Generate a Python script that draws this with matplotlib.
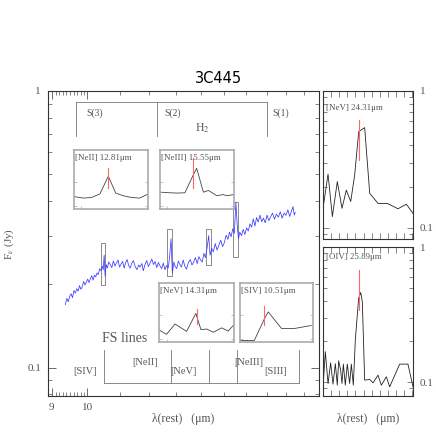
import numpy as np
import matplotlib
matplotlib.use('Agg')
import matplotlib.pyplot as plt
from matplotlib.patches import Rectangle
from matplotlib.ticker import NullFormatter

plt.rcParams['font.family'] = ['Liberation Serif', 'DejaVu Serif']
plt.rcParams['mathtext.fontset'] = 'stix'

GRAY = '#555555'
FRAME = '#333333'
LIGHT = '#aaaaaa'
RED = '#ff6666'

# low-res spectrum (rest wavelength in um, flux in Jy)
spec_wl = [9.37, 9.41, 9.45, 9.49, 9.53, 9.57, 9.61, 9.65, 9.69, 9.73,
           9.77, 9.81, 9.85, 9.89, 9.93, 9.97, 10.01, 10.05, 10.09, 10.13,
           10.17, 10.21, 10.25, 10.29, 10.33, 10.37, 10.41, 10.45, 10.48, 10.51,
           10.54, 10.57, 10.61, 10.65, 10.70, 10.75, 10.80, 10.85, 10.90, 10.95,
           11.00, 11.05, 11.10, 11.15, 11.20, 11.25, 11.30, 11.35, 11.40, 11.46,
           11.52, 11.58, 11.64, 11.69, 11.75, 11.80, 11.86, 11.92, 11.98, 12.04,
           12.10, 12.16, 12.22, 12.28, 12.34, 12.40, 12.46, 12.52, 12.58, 12.64,
           12.70, 12.75, 12.81, 12.86, 12.92, 12.97, 13.03, 13.09, 13.15, 13.21,
           13.28, 13.34, 13.41, 13.48, 13.56, 13.63, 13.70, 13.77, 13.84, 13.91,
           13.98, 14.05, 14.12, 14.18, 14.25, 14.32, 14.38, 14.45, 14.52, 14.60,
           14.68, 14.76, 14.84, 14.92, 15.00, 15.08, 15.16, 15.23, 15.30, 15.38,
           15.45, 15.52, 15.58, 15.64, 15.70, 15.78, 15.86, 15.94, 16.02, 16.10,
           16.18, 16.26, 16.34, 16.42, 16.50, 16.58, 16.67, 16.75, 16.84, 16.93,
           17.02, 17.11, 17.20, 17.30, 17.40, 17.50, 17.60, 17.70, 17.80, 17.90,
           18.00, 18.10, 18.20, 18.30, 18.38, 18.45, 18.50]
spec_flux = [0.169, 0.178, 0.173, 0.181, 0.185, 0.179, 0.190, 0.186, 0.193, 0.189,
             0.198, 0.192, 0.196, 0.205, 0.199, 0.204, 0.209, 0.203, 0.210, 0.215,
             0.207, 0.216, 0.213, 0.220, 0.217, 0.228, 0.224, 0.233, 0.226, 0.255,
             0.214, 0.236, 0.229, 0.241, 0.236, 0.230, 0.243, 0.233, 0.239, 0.245,
             0.231, 0.237, 0.242, 0.229, 0.240, 0.246, 0.234, 0.229, 0.238, 0.244,
             0.232, 0.226, 0.235, 0.231, 0.238, 0.224, 0.236, 0.244, 0.232, 0.239,
             0.247, 0.236, 0.242, 0.230, 0.240, 0.233, 0.228, 0.239, 0.226, 0.234,
             0.229, 0.248, 0.292, 0.220, 0.241, 0.232, 0.228, 0.243, 0.236, 0.231,
             0.245, 0.233, 0.227, 0.239, 0.246, 0.235, 0.241, 0.250, 0.238, 0.252,
             0.245, 0.241, 0.259, 0.250, 0.270, 0.300, 0.255, 0.270, 0.262, 0.281,
             0.266, 0.277, 0.289, 0.274, 0.283, 0.301, 0.291, 0.309, 0.297, 0.318,
             0.306, 0.395, 0.330, 0.292, 0.309, 0.300, 0.316, 0.303, 0.320, 0.312,
             0.331, 0.322, 0.345, 0.325, 0.349, 0.336, 0.356, 0.337, 0.347, 0.334,
             0.356, 0.340, 0.351, 0.362, 0.344, 0.359, 0.350, 0.366, 0.347, 0.362,
             0.355, 0.372, 0.352, 0.368, 0.382, 0.356, 0.364]

# boxes around the lines in the main spectrum: (wl_min, wl_max, f_min, f_max)
line_boxes = [(10.42, 10.55, 0.199, 0.283), (12.66, 12.85, 0.215, 0.318),
              (14.21, 14.42, 0.235, 0.318), (15.39, 15.62, 0.252, 0.398)]

h2_wl = [9.66, 12.28, 17.03]
h2_labels = [('S(3)', 9.97), ('S(2)', 12.55), ('S(1)', 17.3)]
fs_wl = [10.51, 12.81, 14.32, 15.55, 18.71]
fs_labels = [('[SIV]', 9.94, 0.0967), ('[NeII]', 11.87, 0.1043), ('[NeV]', 13.28, 0.0967),
             ('[NeIII]', 16.13, 0.1043), ('[SIII]', 17.47, 0.0967)]

# high-res zooms on the lines: label, rest wl, wl, flux, xlim, ylim, red marker range, axes rect (px)
insets = [
    ('[NeII] 12.81\u03bcm', 12.81,
     [12.710, 12.738, 12.762, 12.787, 12.812, 12.834, 12.856, 12.881, 12.905, 12.927],
     [0.242, 0.237, 0.239, 0.251, 0.311, 0.254, 0.245, 0.239, 0.237, 0.249],
     (12.71, 12.93), (0.20, 0.40), (0.271, 0.340), (74, 150, 74, 59)),
    ('[NeIII] 15.55\u03bcm', 15.55,
     [15.455, 15.483, 15.504, 15.527, 15.550, 15.562, 15.582, 15.597, 15.622, 15.641, 15.651, 15.673],
     [0.307, 0.305, 0.304, 0.305, 0.361, 0.388, 0.307, 0.313, 0.295, 0.299, 0.295, 0.299],
     (15.453, 15.673), (0.25, 0.45), (0.321, 0.423), (160, 150, 74, 59)),
    ('[NeV] 14.31\u03bcm', 14.32,
     [14.210, 14.232, 14.257, 14.291, 14.318, 14.333, 14.350, 14.369, 14.394, 14.413, 14.430],
     [0.261, 0.246, 0.281, 0.256, 0.317, 0.262, 0.264, 0.253, 0.268, 0.257, 0.279],
     (14.21, 14.43), (0.22, 0.42), (0.281, 0.333), (159, 283, 75, 59)),
    ('[SIV] 10.51\u03bcm', 10.51,
     [10.437, 10.480, 10.512, 10.522, 10.562, 10.602, 10.652],
     [0.201, 0.201, 0.278, 0.298, 0.242, 0.242, 0.252],
     (10.437, 10.657), (0.196, 0.396), (0.252, 0.319), (240, 283, 73, 59)),
]

nev_wl = [23.910, 23.966, 24.014, 24.069, 24.121, 24.169, 24.218, 24.262, 24.307, 24.373,
          24.429, 24.521, 24.624, 24.743, 24.836, 24.910]
nev_flux = [0.139, 0.247, 0.121, 0.218, 0.139, 0.189, 0.156, 0.244, 0.505, 0.540,
            0.179, 0.151, 0.151, 0.138, 0.149, 0.128]

oiv_wl = [25.490, 25.516, 25.546, 25.575, 25.601, 25.627, 25.649, 25.664, 25.686, 25.701,
          25.716, 25.738, 25.760, 25.786, 25.805, 25.827, 25.849, 25.871, 25.886, 25.909,
          25.927, 25.953, 26.009, 26.046, 26.101, 26.138, 26.194, 26.231, 26.342, 26.434,
          26.490]
oiv_flux = [0.0923, 0.168, 0.0978, 0.139, 0.0967, 0.137, 0.0950, 0.144, 0.123, 0.0978,
            0.136, 0.0950, 0.136, 0.0978, 0.136, 0.0950, 0.205, 0.313, 0.417, 0.461,
            0.393, 0.1035, 0.1047, 0.0989, 0.1127, 0.0950, 0.1096, 0.0923, 0.136, 0.136,
            0.0923]


def px_rect(x, y, w, h):
    return [x / 436, (436 - y - h) / 436, w / 436, h / 436]


def style_frame(a, color=FRAME, lw=0.8):
    for s in a.spines.values():
        s.set_color(color)
        s.set_linewidth(lw)


fig = plt.figure(figsize=(4.36, 4.36), dpi=100)

# main panel
ax = fig.add_axes(px_rect(48, 91, 271, 305))
ax.plot(spec_wl, spec_flux, color='#3a3aff', lw=0.55)
ax.set_xscale('log')
ax.set_yscale('log')
ax.set_xlim(8.9, 19.85)
ax.set_ylim(0.079, 1.0)
ax.set_xticks([9, 10])
ax.set_xticklabels(['9', '10'])
ax.set_xticks(list(np.arange(9.1, 9.95, 0.1)) + list(range(11, 20)), minor=True)
ax.xaxis.set_minor_formatter(NullFormatter())
ax.set_yticks([0.1, 1])
ax.set_yticklabels(['0.1', '1'])
ax.set_yticks([0.08, 0.09] + list(np.arange(0.2, 0.95, 0.1)), minor=True)
ax.yaxis.set_minor_formatter(NullFormatter())
ax.tick_params(which='both', direction='in', top=True, right=True, colors=GRAY,
               labelsize=8, pad=5)
ax.tick_params(which='major', length=6, width=0.6)
ax.tick_params(which='minor', length=3, width=0.5)
style_frame(ax)
ax.set_xlabel('\u03bb(rest)   (\u03bcm)', fontsize=8.5, color=GRAY, labelpad=1)
ax.set_ylabel(r'F$_\nu$ (Jy)', fontsize=8, color=GRAY, labelpad=8)
ax.set_title('3C445', fontsize=10.5, family='DejaVu Sans', x=0.63, pad=6)

for x0, x1, y0, y1 in line_boxes:
    ax.add_patch(Rectangle((x0, y0), x1 - x0, y1 - y0, fill=False, ec='#777777', lw=0.6))

# H2 bracket
ax.plot([h2_wl[0], h2_wl[-1]], [0.913, 0.913], color='#777777', lw=0.6)
for w in h2_wl:
    ax.plot([w, w], [0.913, 0.69], color='#777777', lw=0.6)
for t, w in h2_labels:
    ax.text(w, 0.833, t, fontsize=7, color=GRAY, ha='left', va='center')
ax.text(14.05, 0.735, r'H$_2$', fontsize=8.5, color=GRAY, ha='center', va='center')

# fine-structure bracket
ax.plot([fs_wl[0], fs_wl[-1]], [0.088, 0.088], color='#777777', lw=0.6)
for w in fs_wl:
    ax.plot([w, w], [0.088, 0.116], color='#777777', lw=0.6)
for t, w, f in fs_labels:
    ax.text(w, f, t, fontsize=7.5, color=GRAY, ha='center', va='center')
ax.text(11.18, 0.128, 'FS lines', fontsize=10, color=GRAY, ha='center', va='center')

# line insets
for label, w0, wl, fl, xl, yl, red, rect in insets:
    ia = fig.add_axes(px_rect(*rect))
    ia.plot(wl, fl, color='#444444', lw=0.6)
    ia.plot([w0, w0], red, color=RED, lw=0.8)
    ia.set_xlim(*xl)
    ia.set_ylim(*yl)
    ia.set_xticks([xl[0] + 0.1 * (xl[1] - xl[0])])
    ia.set_yticks([yl[0] + 0.05 * (yl[1] - yl[0]), yl[0] + 0.45 * (yl[1] - yl[0])])
    ia.tick_params(direction='in', right=True, length=2, width=0.5, colors=LIGHT,
                   labelbottom=False, labelleft=False)
    style_frame(ia, LIGHT, 1.2)
    ia.text(0.02, 0.86, label, transform=ia.transAxes, fontsize=6.4, color=GRAY,
            ha='left', va='center')

# right-hand panels with long wavelength lines
right = [
    (px_rect(323, 91, 90, 148), nev_wl, nev_flux, 24.31, (0.313, 0.614), (23.91, 24.91),
     (0.083, 1.0), '[NeV] 24.31\u03bcm', 0.885),
    (px_rect(323, 247, 90, 149), oiv_wl, oiv_flux, 25.89, (0.341, 0.676), (25.49, 26.49),
     (0.079, 1.0), '[OIV] 25.89\u03bcm', 0.93),
]
for i, (rect, wl, fl, w0, red, xl, yl, label, ty) in enumerate(right):
    ra = fig.add_axes(rect)
    ra.plot(wl, fl, color='#222222', lw=0.6)
    ra.plot([w0, w0], red, color=RED, lw=0.8)
    ra.set_yscale('log')
    ra.set_xlim(*xl)
    ra.set_ylim(*yl)
    ra.set_xticks(list(np.arange(xl[0] + 0.09, xl[1], 0.09)))
    ra.xaxis.set_major_formatter(NullFormatter())
    ra.set_yticks([0.1, 1])
    ra.set_yticklabels(['0.1', '1'])
    ra.set_yticks([0.09] + list(np.arange(0.2, 0.95, 0.1)), minor=True)
    ra.yaxis.set_minor_formatter(NullFormatter())
    ra.tick_params(which='both', direction='in', top=True, right=True, colors=GRAY,
                   labelleft=False, labelright=True, labelsize=8, pad=5)
    ra.tick_params(which='major', length=4, width=0.5)
    ra.tick_params(which='minor', length=3, width=0.5)
    style_frame(ra)
    ra.text(0.03, ty, label, transform=ra.transAxes, fontsize=6.4, color=GRAY,
            ha='left', va='center')
    if i == 1:
        ra.set_xlabel('\u03bb(rest)   (\u03bcm)', fontsize=8.5, color=GRAY, labelpad=7)

fig.savefig('out.png', dpi=100)
